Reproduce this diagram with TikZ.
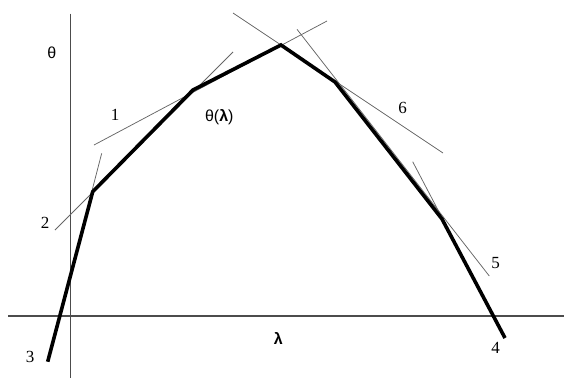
\documentclass[tikz,border=0pt]{standalone}
\usepackage{fontspec}
\setmainfont{Liberation Serif}
\newfontfamily\sansgr{Liberation Sans}
\begin{document}
\begin{tikzpicture}[x=1pt,y=-1pt,
  axis/.style={draw=black!70,line width=1.1pt},
  tangent/.style={draw=black!60,line width=0.75pt},
  curve/.style={draw=black,line width=3.6pt,line join=miter,line cap=butt},
  num/.style={font=\fontsize{17}{17}\selectfont,inner sep=0pt},
  sym/.style={font=\sansgr\fontsize{16}{16}\selectfont,inner sep=0pt}]
\useasboundingbox (0,0) rectangle (564,378);
% axes
\coordinate (vtop) at (70.5,13.5);
\coordinate (vbot) at (70.5,378);
\coordinate (hl) at (8,316);
\coordinate (hr) at (564,316);
\draw[axis] (vtop) -- (vbot);
\draw[axis] (hl) -- (hr);
% vertices of theta(lambda)
\coordinate (S) at (47.7,361.7);
\coordinate (P1) at (92.7,191.7);
\coordinate (P2) at (193,90);
\coordinate (P3) at (281,45);
\coordinate (P4) at (335,82);
\coordinate (P5) at (442,219);
\coordinate (E) at (505,338);
% supporting lines
\coordinate (a1) at (94,145);   \coordinate (b1) at (327,21);
\coordinate (a2) at (55,230);   \coordinate (b2) at (233,52);
\coordinate (a3) at (101.7,153.3);
\coordinate (a4) at (412.7,161.7);
\coordinate (a5) at (297,29.3); \coordinate (b5) at (489.3,276);
\coordinate (a6) at (233,13);   \coordinate (b6) at (443,153);
\draw[tangent] (a1) -- (b1);
\draw[tangent] (a2) -- (b2);
\draw[tangent] (a3) -- (S);
\draw[tangent] (a4) -- (E);
\draw[tangent] (a5) -- (b5);
\draw[tangent] (a6) -- (b6);
% curve
\draw[curve] (S) -- (P1) -- (P2) -- (P3) -- (P4) -- (P5) -- (E);
% labels
\node[num] (n1) at (115,115) {1};
\node[num] (n2) at (45,223.3) {2};
\node[num] (n3) at (30,356.7) {3};
\node[num] (n4) at (495.7,348.3) {4};
\node[num] (n5) at (495.7,262.7) {5};
\node[num] (n6) at (402.7,108.3) {6};
\node[sym] (th) at (51.7,53) {θ};
\node[sym] (thl) at (219.3,116.7) {θ(\textbf{λ})};
\node[sym,font=\sansgr\bfseries\fontsize{16}{16}\selectfont] (lam) at (278.3,338.3) {λ};
\end{tikzpicture}
\end{document}
